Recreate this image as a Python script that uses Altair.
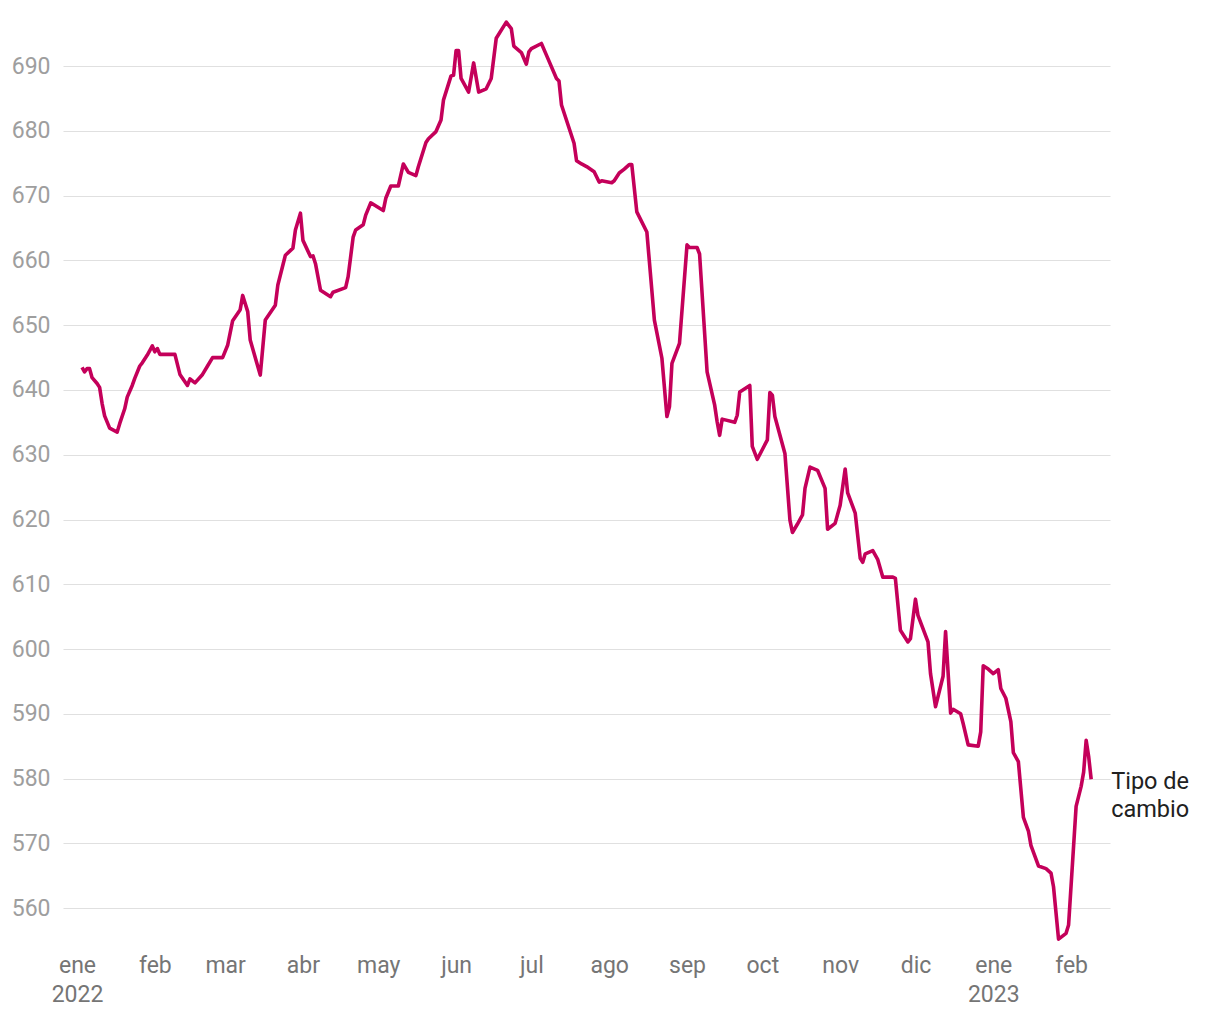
import altair as alt
import pandas as pd

# ---- data ----
fechas = [
    "2022-01-03", "2022-01-04", "2022-01-05", "2022-01-06", "2022-01-07", "2022-01-09",
    "2022-01-10", "2022-01-11", "2022-01-12", "2022-01-14", "2022-01-17", "2022-01-18",
    "2022-01-20", "2022-01-21", "2022-01-23", "2022-01-24", "2022-01-26", "2022-01-27",
    "2022-01-29", "2022-01-31", "2022-02-01", "2022-02-02", "2022-02-03", "2022-02-09",
    "2022-02-11", "2022-02-14", "2022-02-15", "2022-02-17", "2022-02-20", "2022-02-22",
    "2022-02-24", "2022-02-28", "2022-03-02", "2022-03-04", "2022-03-07", "2022-03-08",
    "2022-03-10", "2022-03-11", "2022-03-15", "2022-03-17", "2022-03-21", "2022-03-22",
    "2022-03-25", "2022-03-28", "2022-03-29", "2022-03-31", "2022-04-01", "2022-04-04",
    "2022-04-05", "2022-04-06", "2022-04-08", "2022-04-12", "2022-04-13", "2022-04-18",
    "2022-04-19", "2022-04-21", "2022-04-22", "2022-04-25", "2022-04-26", "2022-04-28",
    "2022-05-03", "2022-05-04", "2022-05-06", "2022-05-09", "2022-05-11", "2022-05-13",
    "2022-05-16", "2022-05-17", "2022-05-20", "2022-05-21", "2022-05-24", "2022-05-26",
    "2022-05-27", "2022-05-30", "2022-05-31", "2022-06-01", "2022-06-02", "2022-06-03",
    "2022-06-06", "2022-06-08", "2022-06-10", "2022-06-13", "2022-06-15", "2022-06-17",
    "2022-06-21", "2022-06-23", "2022-06-24", "2022-06-27", "2022-06-29", "2022-06-30",
    "2022-07-01", "2022-07-05", "2022-07-07", "2022-07-11", "2022-07-12", "2022-07-13",
    "2022-07-18", "2022-07-19", "2022-07-21", "2022-07-23", "2022-07-26", "2022-07-28",
    "2022-07-29", "2022-08-02", "2022-08-03", "2022-08-05", "2022-08-07", "2022-08-09",
    "2022-08-10", "2022-08-12", "2022-08-16", "2022-08-19", "2022-08-22", "2022-08-24",
    "2022-08-25", "2022-08-26", "2022-08-29", "2022-09-01", "2022-09-02", "2022-09-05",
    "2022-09-06", "2022-09-09", "2022-09-12", "2022-09-13", "2022-09-14", "2022-09-15",
    "2022-09-20", "2022-09-21", "2022-09-22", "2022-09-26", "2022-09-27", "2022-09-29",
    "2022-10-03", "2022-10-04", "2022-10-05", "2022-10-06", "2022-10-10", "2022-10-12",
    "2022-10-13", "2022-10-15", "2022-10-17", "2022-10-18", "2022-10-20", "2022-10-23",
    "2022-10-26", "2022-10-27", "2022-10-30", "2022-11-01", "2022-11-03", "2022-11-04",
    "2022-11-07", "2022-11-09", "2022-11-10", "2022-11-11", "2022-11-14", "2022-11-16",
    "2022-11-18", "2022-11-22", "2022-11-23", "2022-11-25", "2022-11-28", "2022-11-29",
    "2022-12-01", "2022-12-02", "2022-12-06", "2022-12-07", "2022-12-09", "2022-12-12",
    "2022-12-13", "2022-12-15", "2022-12-16", "2022-12-19", "2022-12-20", "2022-12-22",
    "2022-12-26", "2022-12-27", "2022-12-28", "2022-12-30", "2023-01-01", "2023-01-03",
    "2023-01-04", "2023-01-06", "2023-01-08", "2023-01-09", "2023-01-11", "2023-01-13",
    "2023-01-15", "2023-01-16", "2023-01-19", "2023-01-22", "2023-01-24", "2023-01-25",
    "2023-01-27", "2023-01-30", "2023-01-31", "2023-02-03", "2023-02-05", "2023-02-06",
    "2023-02-07", "2023-02-08", "2023-02-09",
]
valores = [
    643.5, 642.8, 643.3, 643.3, 641.9, 641.0,
    640.4, 637.9, 636.0, 634.1, 633.5, 634.8,
    637.1, 638.9, 640.7, 641.8, 643.7, 644.2,
    645.4, 646.8, 645.9, 646.4, 645.5, 645.5,
    642.4, 640.7, 641.7, 641.1, 642.4, 643.7,
    645.0, 645.0, 646.9, 650.7, 652.4, 654.6,
    652.1, 647.7, 642.3, 650.8, 653.1, 656.2,
    660.8, 661.9, 664.7, 667.3, 663.1, 660.6,
    660.7, 659.5, 655.4, 654.4, 655.1, 655.8,
    657.5, 663.6, 664.7, 665.5, 667.0, 668.9,
    667.7, 669.6, 671.5, 671.5, 674.9, 673.6,
    673.1, 674.5, 678.2, 678.8, 679.9, 681.7,
    684.8, 688.5, 688.6, 692.4, 692.4, 688.1,
    686.0, 690.5, 686.0, 686.5, 688.1, 694.3,
    696.8, 695.8, 693.1, 692.1, 690.3, 692.2,
    692.7, 693.5, 691.7, 688.1, 687.7, 684.0,
    678.1, 675.4, 674.9, 674.5, 673.7, 672.1,
    672.3, 672.0, 672.3, 673.5, 674.1, 674.8,
    674.8, 667.5, 664.4, 650.8, 644.9, 635.9,
    637.4, 644.1, 647.2, 662.4, 662.0, 662.0,
    661.0, 642.8, 637.7, 635.1, 633.0, 635.5,
    635.0, 636.1, 639.7, 640.7, 631.3, 629.3,
    632.3, 639.6, 639.2, 635.9, 630.2, 619.9,
    618.0, 619.3, 620.7, 624.8, 628.1, 627.6,
    624.8, 618.5, 619.4, 622.2, 627.8, 624.1,
    621.0, 614.0, 613.4, 614.7, 615.2, 613.8,
    611.1, 611.1, 610.9, 602.9, 601.1, 601.6,
    607.7, 605.2, 601.1, 596.2, 591.1, 595.8,
    602.7, 590.1, 590.7, 590.0, 588.5, 585.2,
    585.0, 587.2, 597.4, 596.9, 596.2, 596.8,
    593.9, 592.4, 588.8, 584.0, 582.6, 574.0,
    571.9, 569.7, 566.5, 566.1, 565.4, 563.3,
    555.2, 556.1, 557.4, 575.7, 578.8, 581.0,
    585.9, 583.4, 579.9,
]
serie_nombre = "Tipo de\ncambio"
meses = ["ene", "feb", "mar", "abr", "may", "jun", "jul", "ago", "sep", "oct", "nov", "dic"]
ticks_mes = [
    "2022-01-01", "2022-02-01", "2022-03-01", "2022-04-01", "2022-05-01", "2022-06-01",
    "2022-07-01", "2022-08-01", "2022-09-01", "2022-10-01", "2022-11-01", "2022-12-01",
    "2023-01-01", "2023-02-01",
]
ticks_y = [560, 570, 580, 590, 600, 610, 620, 630, 640, 650, 660, 670, 680, 690]

COLOR = "#c4005a"
FONT = "Roboto"


def ms(s):
    return int(pd.Timestamp(s, tz="UTC").value // 10**6)


df = pd.DataFrame({"fecha": fechas, "valor": valores})
ultimo = df.iloc[[-1]].copy()
ultimo["etiqueta"] = serie_nombre

mes_arr = "[" + ",".join("'%s'" % m for m in meses) + "]"
label_expr = (
    "utcmonth(datum.value) == 0 ? [" + mes_arr + "[utcmonth(datum.value)], '' + utcyear(datum.value)] : "
    + mes_arr + "[utcmonth(datum.value)]"
)

x_scale = alt.Scale(type="utc", domain=[ms("2021-12-26T10:00:00"), ms("2023-02-16T12:00:00")])
y_scale = alt.Scale(domain=[554.3, 697.9], nice=False, zero=False)

line = alt.Chart(df).mark_line(color=COLOR, strokeWidth=3.6, strokeJoin="round").encode(
    x=alt.X(
        "fecha:T",
        scale=x_scale,
        axis=alt.Axis(
            title=None,
            values=[ms(t) for t in ticks_mes],
            labelExpr=label_expr,
            grid=False,
            domain=False,
            ticks=False,
            labelPadding=9,
            labelFontSize=23,
            labelLineHeight=29,
            labelColor="#757575",
            labelFont=FONT,
            labelOverlap=False,
            labelBaseline="top",
        ),
    ),
    y=alt.Y(
        "valor:Q",
        scale=y_scale,
        axis=alt.Axis(
            title=None,
            values=ticks_y,
            grid=True,
            gridColor="#e0e0e0",
            gridWidth=1.2,
            domain=False,
            ticks=False,
            labelPadding=13,
            labelFontSize=23,
            labelColor="#9e9e9e",
            labelFont=FONT,
        ),
    ),
)

label = alt.Chart(ultimo).mark_text(
    align="left",
    baseline="middle",
    dx=20,
    dy=3,
    fontSize=23.5,
    font=FONT,
    lineBreak="\n",
    lineHeight=28,
    color="#212121",
).encode(x="fecha:T", y="valor:Q", text="etiqueta:N")

chart = (
    alt.layer(line, label)
    .properties(
        width=1047,
        height=930,
        autosize=alt.AutoSizeParams(type="none"),
        padding={"left": 63, "top": 15, "right": 110, "bottom": 75},
    )
    .configure(font=FONT)
    .configure_view(strokeWidth=0)
)

chart.save("out.html", embed_options={"renderer": "svg", "actions": False})
